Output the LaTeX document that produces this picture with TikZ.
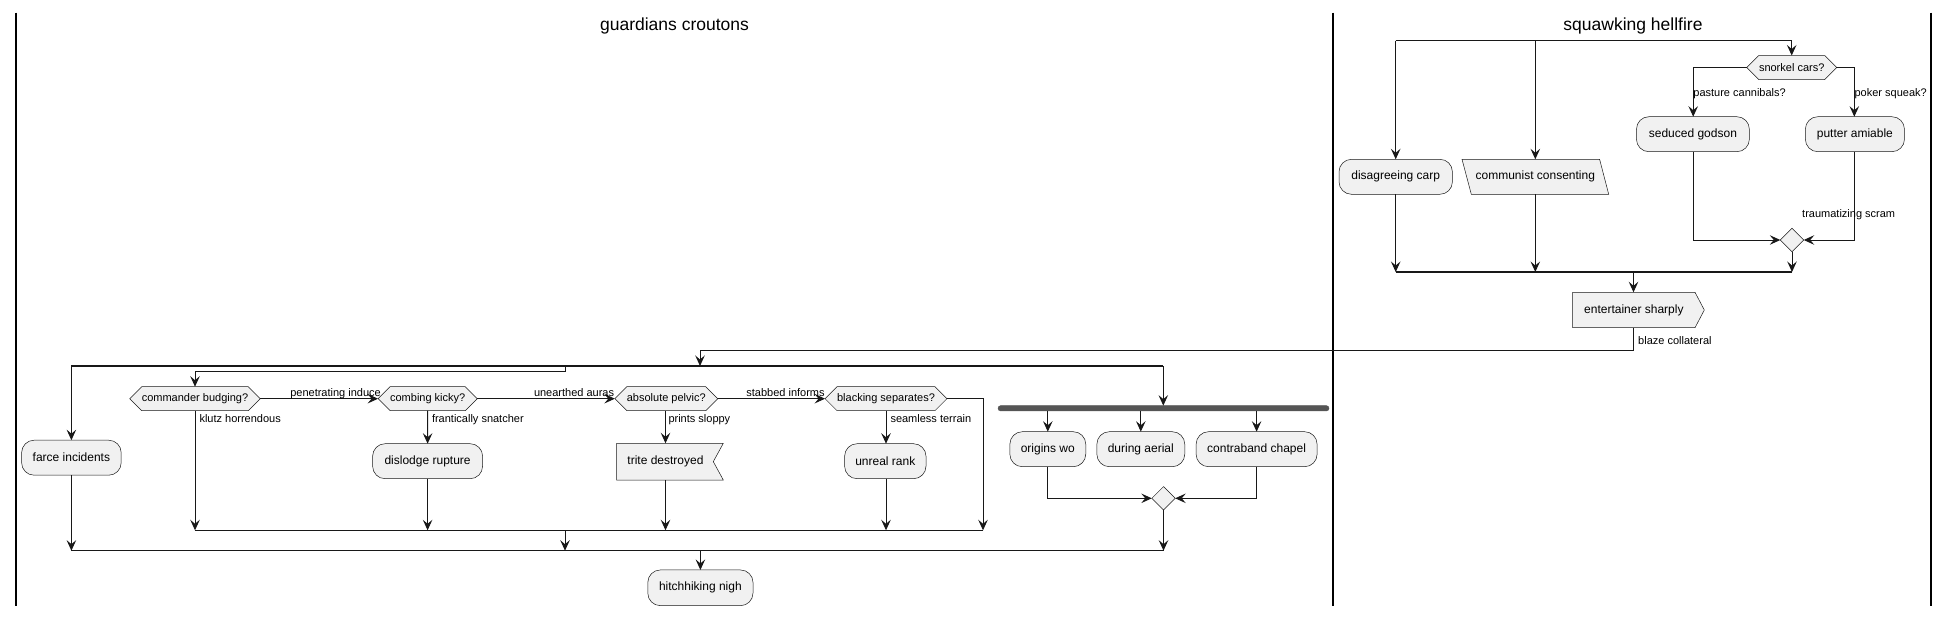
\documentclass[tikz,border=0pt]{standalone}
\usepackage{fontspec}
\setmainfont{Liberation Sans}
\usetikzlibrary{shapes.geometric,shapes.symbols,arrows.meta,calc}
\definecolor{boxfill}{HTML}{F1F1F1}
\definecolor{boxline}{HTML}{181818}
\definecolor{barcol}{HTML}{555555}
\begin{document}
\begin{tikzpicture}[x=1pt,y=-1pt,
  every node/.style={inner sep=0pt,outer sep=0pt},
  boxfont/.style={font=\fontsize{12}{14}\selectfont},
  act/.style={boxfont,draw=boxline,fill=boxfill,rounded corners=12.5pt,line width=0.5pt,minimum height=35pt},
  shapeline/.style={draw=boxline,fill=boxfill,line width=0.5pt},
  hexa/.style={font=\fontsize{11}{13}\selectfont,shape=signal,signal to=west and east,signal pointer angle=90,draw=boxline,fill=boxfill,line width=0.5pt,minimum height=24pt},
  merge/.style={shape=diamond,aspect=1,draw=boxline,fill=boxfill,line width=0.5pt,minimum size=23.4pt},
  lbl/.style={font=\fontsize{11}{13}\selectfont,anchor=base west},
  ttl/.style={font=\fontsize{17.5}{20}\selectfont},
  lane/.style={line width=1.5pt,draw=black},
  conn/.style={draw=boxline,line width=1pt},
  bar/.style={draw=boxline,line width=1.3pt},
  arr/.style={conn,-{Stealth[length=10.5pt,width=9.5pt,inset=4pt]}},
]
\useasboundingbox (0,0) rectangle (1949,616);
% lanes
\coordinate (l0t) at (15.8,12.5); \coordinate (l0b) at (15.8,605.5);
\coordinate (l1t) at (1333.2,12.5); \coordinate (l1b) at (1333.2,605.5);
\coordinate (l2t) at (1930.9,12.5); \coordinate (l2b) at (1930.9,605.5);
\draw[lane] (l0t) -- (l0b);
\draw[lane] (l1t) -- (l1b);
\draw[lane] (l2t) -- (l2b);
\node[ttl] (t1) at (674.5,26) {guardians croutons};
\node[ttl] (t2) at (1633,26) {squawking hellfire};

% ---------- right lane ----------
\node[act,minimum width=113.4pt] (carp) at (1395.7,176.8) {disagreeing carp};
\draw[shapeline] (1462,159.3) -- (1599.6,159.3) -- (1608.7,194.3) -- (1471.3,194.3) -- cycle;
\node[boxfont,minimum width=146.7pt,minimum height=35pt] (comm) at (1535.3,176.8) {communist consenting};
\node[hexa,minimum width=90pt] (snork) at (1791.7,67.5) {snorkel cars?};
\node[act,minimum width=112.9pt] (sed) at (1692.9,134.2) {seduced godson};
\node[act,minimum width=99.1pt] (put) at (1854.9,134.2) {putter amiable};
\node[merge] (m1) at (1792,240) {};
\draw[shapeline] (1572.7,292.3) -- (1695,292.3) -- (1704.3,310) -- (1695,327.7) -- (1572.7,327.7) -- cycle;
\node[boxfont,minimum width=122.3pt,minimum height=35.4pt] (ent) at (1633.85,310) {entertainer sharply};

\coordinate (rs1) at (1395.7,40.7);
\coordinate (rs2) at (1535.3,40.7);
\coordinate (rs3) at (1791.7,40.7);
\draw[bar] (rs1) -- (rs3);
\draw[arr] (rs1) -- (carp.north);
\draw[arr] (rs2) -- (comm.north);
\draw[arr] (rs3) -- (snork.north);
\coordinate (sl) at (1693.2,67.5);
\coordinate (sr) at (1854.3,67.5);
\draw[arr] (snork.west) -- (sl) -- (sl |- sed.north);
\draw[arr] (snork.east) -- (sr) -- (sr |- put.north);
\node[lbl] (lb1) at (1693.4,96.5) {pasture cannibals?};
\node[lbl] (lb2) at (1854.6,96.5) {poker squeak?};
\draw[arr] (sl |- sed.south) |- (m1.west);
\draw[arr] (sr |- put.south) |- (m1.east);
\node[lbl] (lb3) at (1802.2,217.3) {traumatizing scram};
\coordinate (rj1) at (1395.7,272);
\coordinate (rj2) at (1535.3,272);
\coordinate (rj3) at (1792,272);
\coordinate (rj4) at (1633.5,272);
\draw[bar] (rj1) -- (rj3);
\draw[arr] (carp.south) -- (rj1);
\draw[arr] (comm.south) -- (rj2);
\draw[arr] (m1.south) -- (rj3);
\draw[arr] (rj4) -- (rj4 |- ent.north);
\coordinate (bl) at (1633.5,350.7);
\coordinate (bc) at (700,350.7);
\coordinate (ltop) at (700,366);
\draw[arr] (rj4 |- ent.south) -- (bl) -- (bc) -- (ltop);
\node[lbl] (lb4) at (1638.2,344.7) {blaze collateral};

% ---------- left lane ----------
\node[act,minimum width=99.6pt] (farce) at (71.4,457.7) {farce incidents};
\node[hexa,minimum width=126pt] (cmd) at (195,398.7) {commander budging?};
\node[hexa,minimum width=95.5pt] (comb) at (427.7,398.7) {combing kicky?};
\node[hexa,minimum width=101.4pt] (abs) at (666.3,398.7) {absolute pelvic?};
\node[hexa,minimum width=120pt] (blk) at (886,398.7) {blacking separates?};
\node[act,minimum width=110pt] (disl) at (427.6,461.2) {dislodge rupture};
\draw[shapeline] (616.7,443.3) -- (723.3,443.3) -- (713.3,461.65) -- (723.3,480) -- (616.7,480) -- cycle;
\node[boxfont,minimum width=98pt,minimum height=36.7pt] (trite) at (665.5,461.65) {trite destroyed};
\node[act,minimum width=81.4pt] (unreal) at (885.3,461.2) {unreal rank};
\node[draw=barcol,fill=barcol,rounded corners=2.6pt,minimum width=331pt,minimum height=5.3pt] (fork) at (1163.5,408.3) {};
\node[act,minimum width=75.9pt] (orig) at (1047.8,449.2) {origins wo};
\node[act,minimum width=87.9pt] (dur) at (1140.8,449.2) {during aerial};
\node[act,minimum width=121pt] (contra) at (1256.6,449.2) {contraband chapel};
\node[merge] (m2) at (1163.5,498.3) {};
\node[act,minimum width=105.2pt,minimum height=35.7pt] (hitch) at (700.4,587.8) {hitchhiking nigh};

\coordinate (lb1s) at (71.4,366);
\coordinate (lb2s) at (1163.3,366);
\coordinate (stp) at (565,366);
\coordinate (stp2) at (565,371.7);
\draw[bar] (lb1s) -- (lb2s);
\draw[arr] (lb1s) -- (farce.north);
\draw[arr] (lb2s) -- (lb2s |- fork.north);
\draw[arr] (stp) -- (stp2) -| (cmd.north);
\draw[arr] (cmd.east) -- (comb.west);
\draw[arr] (comb.east) -- (abs.west);
\draw[arr] (abs.east) -- (blk.west);
\node[lbl] (e1) at (290.3,396) {penetrating induce};
\node[lbl] (e2) at (534,396) {unearthed auras};
\node[lbl] (e3) at (746.4,396) {stabbed informs};
\node[lbl] (e4) at (199.5,422) {klutz horrendous};
\node[lbl] (e5) at (432,422) {frantically snatcher};
\node[lbl] (e6) at (668.5,422) {prints sloppy};
\node[lbl] (e7) at (890.5,422) {seamless terrain};
\coordinate (im1) at (195,530.3);
\coordinate (im2) at (983,530.3);
\coordinate (im3) at (565,530.3);
\coordinate (br) at (983,398.7);
\draw[bar] (im1) -- (im2);
\draw[arr] (cmd.south) -- (im1);
\draw[arr] (comb.south) -- (disl.north);
\draw[arr] (disl.south) -- (disl.south |- im1);
\draw[arr] (trite.north |- abs.south) -- (trite.north);
\draw[arr] (trite.south) -- (trite.south |- im1);
\draw[arr] (blk.south) -- (blk.south |- unreal.north);
\draw[arr] (blk.south |- unreal.south) -- (blk.south |- im1);
\draw[arr] (blk.east) -- (br) -- (im2);
\coordinate (lj1) at (71.4,550.7);
\coordinate (lj2) at (1163.5,550.7);
\coordinate (lj3) at (565,550.7);
\coordinate (lj4) at (700.4,550.7);
\draw[bar] (lj1) -- (lj2);
\draw[arr] (farce.south) -- (lj1);
\draw[arr] (im3) -- (lj3);
\draw[arr] (m2.south) -- (lj2);
\draw[arr] (lj4) -- (hitch.north);
\draw[arr] (orig.north |- fork.south) -- (orig.north);
\draw[arr] (dur.north |- fork.south) -- (dur.north);
\draw[arr] (contra.north |- fork.south) -- (contra.north);
\draw[arr] (orig.south) |- (m2.west);
\draw[arr] (contra.south) |- (m2.east);
\end{tikzpicture}
\end{document}
